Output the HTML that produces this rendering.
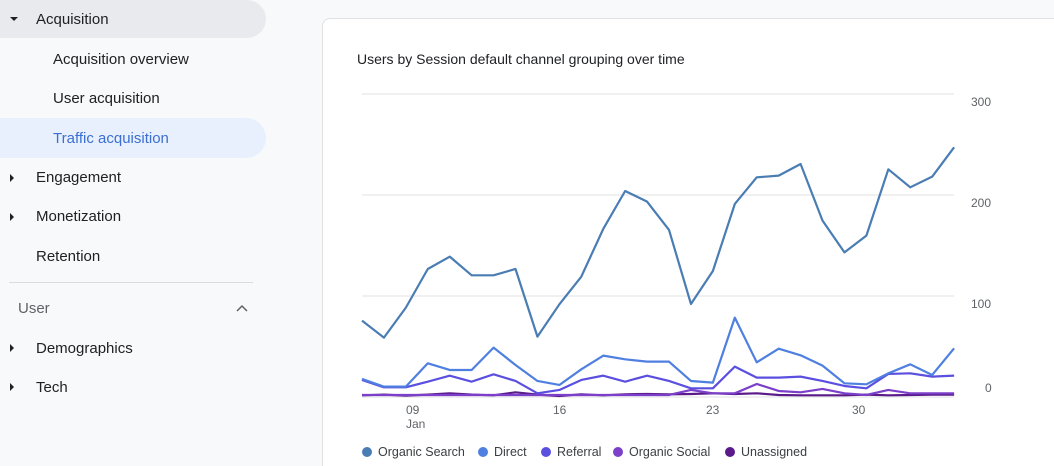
<!DOCTYPE html>
<html><head><meta charset="utf-8"><style>
html,body{margin:0;width:1054px;height:466px;overflow:hidden}
body{background:#f8f9fa;font-family:"Liberation Sans",sans-serif;position:relative}
.it{position:absolute;font-size:15px;color:#202124}
.pill{position:absolute;left:0;width:266px;border-radius:0 20px 20px 0}
.tri{position:absolute;left:10px;width:0;height:0}
.card{position:absolute;left:322px;top:18px;width:731px;height:448px;background:#fff;border:1px solid #e0e0e0;border-bottom:none;border-right:none;border-radius:8px 0 0 0}
.lg{position:absolute;top:445px;font-size:12.5px;color:#3c4043}
.dot{display:inline-block;width:10px;height:10px;border-radius:50%;margin-right:6px;vertical-align:-1px}
.ax{position:absolute;font-size:12px;color:#5f6368}
</style></head><body>
<div class="pill" style="top:0;height:38px;background:#e8eaed"></div>
<div class="pill" style="top:118px;height:40px;background:#e8f0fe"></div>
<div class="tri" style="top:17px;border-left:4px solid transparent;border-right:4px solid transparent;border-top:4px solid #202124"></div>
<div class="it" style="left:36px;top:11px">Acquisition</div>
<div class="it" style="left:53px;top:51px">Acquisition overview</div>
<div class="it" style="left:53px;top:90px">User acquisition</div>
<div class="it" style="left:53px;top:130px;color:#3b6fd1">Traffic acquisition</div>
<div class="tri" style="top:174px;border-top:4px solid transparent;border-bottom:4px solid transparent;border-left:4px solid #202124"></div>
<div class="it" style="left:36px;top:169px">Engagement</div>
<div class="tri" style="top:213px;border-top:4px solid transparent;border-bottom:4px solid transparent;border-left:4px solid #202124"></div>
<div class="it" style="left:36px;top:208px">Monetization</div>
<div class="it" style="left:36px;top:248px">Retention</div>
<div style="position:absolute;left:9px;top:282px;width:244px;height:1px;background:#dadce0"></div>
<div class="it" style="left:18px;top:300px;color:#5f6368">User</div>
<svg style="position:absolute;left:236px;top:304px" width="12" height="8"><polyline points="1,7 6,2 11,7" fill="none" stroke="#5f6368" stroke-width="1.5"/></svg>
<div class="tri" style="top:344px;border-top:4px solid transparent;border-bottom:4px solid transparent;border-left:4px solid #202124"></div>
<div class="it" style="left:36px;top:340px">Demographics</div>
<div class="tri" style="top:383px;border-top:4px solid transparent;border-bottom:4px solid transparent;border-left:4px solid #202124"></div>
<div class="it" style="left:36px;top:379px">Tech</div>
<div class="card"></div>
<div style="position:absolute;left:357px;top:51px;font-size:14px;color:#202124">Users by Session default channel grouping over time</div>
<svg style="position:absolute;left:0;top:0" width="1054" height="466">
<g stroke="#ececec" stroke-width="1.5"><line x1="362" y1="94" x2="954" y2="94"/><line x1="362" y1="195" x2="954" y2="195"/><line x1="362" y1="296" x2="954" y2="296"/><line x1="362" y1="397" x2="954" y2="397"/></g>
<g transform="translate(362,80) scale(21.93,0.3333)" fill="none" stroke-width="2.2" stroke-linejoin="round">
<polyline vector-effect="non-scaling-stroke" stroke="#5a1a8a" points="0,946 1,944 2,947 3,944 4,940 5,944 6,946 7,937 8,944 9,948 10,943 11,946 12,943 13,942 14,943 15,942 16,940 17,942 18,940 19,945 20,946 21,946 22,946 23,944 24,946 25,945 26,944 27,944"/>
<polyline vector-effect="non-scaling-stroke" stroke="#7b3fc9" points="0,945 1,945 2,945 3,945 4,945 5,945 6,945 7,945 8,945 9,945 10,945 11,945 12,945 13,945 14,945 15,930 16,940 17,940 18,912 19,933 20,937 21,927 22,940 23,945 24,930 25,940 26,940 27,940"/>
<polyline vector-effect="non-scaling-stroke" stroke="#5b4fe0" points="0,900 1,922 2,922 3,905 4,887 5,905 6,883 7,903 8,940 9,930 10,900 11,887 12,905 13,887 14,903 15,925 16,925 17,860 18,893 19,893 20,890 21,903 22,918 23,925 24,882 25,880 26,890 27,887"/>
<polyline vector-effect="non-scaling-stroke" stroke="#4f7fe0" points="0,897 1,920 2,920 3,850 4,870 5,870 6,803 7,855 8,903 9,915 10,868 11,827 12,838 13,845 14,845 15,903 16,908 17,713 18,847 19,806 20,826 21,857 22,910 23,913 24,880 25,853 26,885 27,805"/>
<polyline vector-effect="non-scaling-stroke" stroke="#4a7db3" points="0,722 1,773 2,683 3,567 4,530 5,586 6,586 7,567 8,770 9,673 10,590 11,447 12,333 13,365 14,450 15,672 16,573 17,372 18,292 19,287 20,252 21,422 22,517 23,467 24,268 25,322 26,290 27,202"/>
</g>
</svg>
<div class="ax" style="left:971px;top:95px">300</div>
<div class="ax" style="left:971px;top:196px">200</div>
<div class="ax" style="left:971px;top:297px">100</div>
<div class="ax" style="left:985px;top:381px">0</div>
<div class="ax" style="left:406px;top:403px">09<br>Jan</div>
<div class="ax" style="left:553px;top:403px">16</div>
<div class="ax" style="left:706px;top:403px">23</div>
<div class="ax" style="left:852px;top:403px">30</div>
<div class="lg" style="left:362px"><span class="dot" style="background:#4a7db3"></span>Organic Search</div>
<div class="lg" style="left:478px"><span class="dot" style="background:#4f7fe0"></span>Direct</div>
<div class="lg" style="left:541px"><span class="dot" style="background:#5b4fe0"></span>Referral</div>
<div class="lg" style="left:613px"><span class="dot" style="background:#7b3fc9"></span>Organic Social</div>
<div class="lg" style="left:725px"><span class="dot" style="background:#5a1a8a"></span>Unassigned</div>
</body></html>
